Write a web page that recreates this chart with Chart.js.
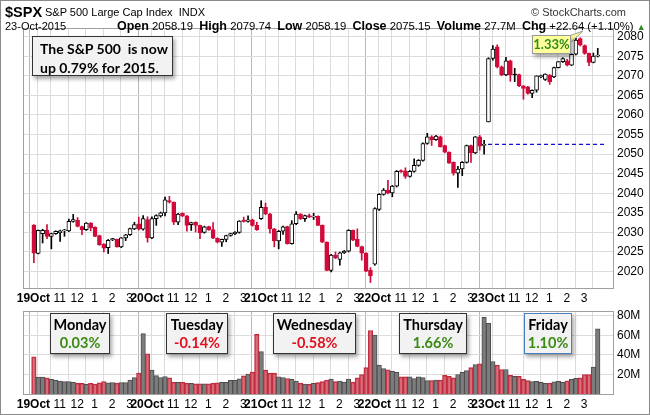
<!DOCTYPE html>
<html>
<head>
<meta charset="utf-8">
<script src="https://cdn.jsdelivr.net/npm/chart.js@4.4.0/dist/chart.umd.min.js"></script>
<style>
  body { margin: 0; background: #fff; font-family: Arial, "Liberation Sans", sans-serif; }
  #frame { position: absolute; left: 0; top: 0; width: 650px; height: 415px; box-sizing: border-box; border: 1px solid #8a8a8a; }
  canvas { position: absolute; left: 0; }
  .t { position: absolute; white-space: nowrap; color: #000; }
  .t b { font-size: 12.5px; }
  .box { position: absolute; background: #f2f2f2; border: 1px solid #333; box-shadow: 2px 3px 4px rgba(0,0,0,0.35);
         font-family: Lato, "Open Sans", sans-serif; font-weight: bold; text-align: center; }
  .box div { line-height: 18px; font-size: 14.5px; }
</style>
</head>
<body>
<div id="frame"></div>
<canvas id="price" width="650" height="305" style="top:0"></canvas>
<canvas id="volume" width="650" height="115" style="top:300px"></canvas>

<div class="t" style="left:5px;top:4px;font-size:14.5px;font-weight:bold">$SPX</div>
<div class="t" style="left:45px;top:6px;font-size:11px">S&amp;P 500 Large Cap Index&nbsp; INDX</div>
<div class="t" style="left:531px;top:6px;font-size:11px;color:#333">&copy; StockCharts.com</div>
<div class="t" style="left:5px;top:20px;font-size:11px">23-Oct-2015</div>
<div class="t" style="left:117px;top:19px;font-size:11.3px"><b>Open</b> 2058.19 &nbsp;<b>High</b> 2079.74 &nbsp;<b>Low</b> 2058.19 &nbsp;<b>Close</b> 2075.15 &nbsp;<b>Volume</b> 27.7M &nbsp;<b>Chg</b> +22.64 (+1.10%) <span style="color:#2e8b22;font-size:9px">&#9650;</span></div>

<div class="box" style="left:32px;top:36px;width:139px;height:38px;text-align:left">
  <div style="padding:2px 0 0 7px;line-height:19px;font-size:14px">The S&amp;P 500&nbsp; is now<br>up 0.79% for 2015.</div>
</div>

<svg style="position:absolute;left:566px;top:29px" width="22" height="20">
  <polygon points="3,7 17,2 3,15" fill="#ffff99" stroke="#999" stroke-width="1"/>
</svg>
<div class="box" style="left:532px;top:35px;width:37px;height:17px;background:#ffff99;border-color:#999;color:#2e8b22">
  <div style="font-size:13px;line-height:17px">1.33%</div>
</div>

<div class="box" style="left:50px;top:313px;width:58px;height:39px"><div style="padding-top:2px">Monday</div><div style="color:#3a8a14">0.03%</div></div>
<div class="box" style="left:166px;top:313px;width:60px;height:39px"><div style="padding-top:2px">Tuesday</div><div style="color:#e0101e">-0.14%</div></div>
<div class="box" style="left:273px;top:313px;width:81px;height:39px"><div style="padding-top:2px">Wednesday</div><div style="color:#e0101e">-0.58%</div></div>
<div class="box" style="left:399px;top:313px;width:66px;height:39px"><div style="padding-top:2px">Thursday</div><div style="color:#3a8a14">1.66%</div></div>
<div class="box" style="left:524px;top:313px;width:46px;height:39px;border-color:#4a7fc0"><div style="padding-top:2px">Friday</div><div style="color:#3a8a14">1.10%</div></div>

<script>
// 15-minute bars, 26 per session, 19-23 Oct 2015
const days = ['19Oct', '20Oct', '21Oct', '22Oct', '23Oct'];
const hourOffsets = [0, 2, 6, 10, 14, 18, 22];
const hourLabels = ['', '', '11', '12', '1', '2', '3'];
const barsPerDay = 26;

const opens = [
  2031.9, 2024.6, 2029.7, 2030.5, 2029.0, 2029.7, 2029.9, 2030.4, 2030.4, 2032.8, 2033.1, 2031.5, 2030.7, 2032.4, 2031.3, 2029.2, 2027.0, 2026.1, 2028.1, 2028.2, 2026.3, 2028.6, 2029.4, 2030.9, 2032.2, 2030.8,
  2033.3, 2028.6, 2033.5, 2034.2, 2035.0, 2038.1, 2037.7, 2032.6, 2034.9, 2034.2, 2032.0, 2032.6, 2031.8, 2030.0, 2031.5, 2030.7, 2028.5, 2027.5, 2028.2, 2029.2, 2029.7, 2030.0, 2033.1, 2032.8, 2033.2, 2031.8,
  2033.5, 2036.4, 2034.7, 2030.9, 2027.8, 2030.3, 2031.5, 2027.1, 2032.2, 2034.7, 2033.5, 2034.3, 2033.9, 2034.1, 2031.8, 2027.5, 2020.3, 2024.2, 2023.1, 2024.8, 2025.2, 2030.5, 2028.2, 2026.4, 2024.7, 2020.3,
  2021.9, 2035.9, 2039.7, 2040.8, 2040.1, 2041.8, 2045.6, 2045.7, 2044.3, 2045.6, 2047.1, 2048.4, 2052.7, 2054.4, 2053.7, 2054.4, 2052.2, 2050.5, 2047.9, 2045.1, 2046.2, 2047.9, 2052.2, 2050.3, 2054.4, 2052.2,
  2058.2, 2074.4, 2077.4, 2072.3, 2070.2, 2073.8, 2070.4, 2070.3, 2067.4, 2067.2, 2065.5, 2066.3, 2069.8, 2069.1, 2070.2, 2069.7, 2072.1, 2073.6, 2073.8, 2072.7, 2075.5, 2079.5, 2077.7, 2075.7, 2073.4, 2075.0
];
const highs = [
  2032.0, 2030.6, 2030.8, 2032.0, 2029.8, 2030.4, 2030.6, 2030.8, 2033.4, 2034.6, 2033.8, 2031.6, 2032.5, 2032.5, 2031.4, 2029.3, 2027.1, 2028.2, 2028.5, 2028.3, 2028.7, 2029.5, 2031.1, 2032.6, 2033.9, 2034.3,
  2034.0, 2034.0, 2034.5, 2035.2, 2039.0, 2039.2, 2037.8, 2034.9, 2035.0, 2034.3, 2032.6, 2032.7, 2031.9, 2031.6, 2031.6, 2032.5, 2028.6, 2028.3, 2029.3, 2029.8, 2030.2, 2033.0, 2033.9, 2034.2, 2033.4, 2032.6,
  2038.1, 2037.5, 2034.9, 2031.0, 2030.5, 2031.6, 2031.6, 2033.0, 2035.3, 2034.8, 2034.4, 2034.7, 2034.9, 2034.2, 2031.9, 2027.6, 2024.4, 2025.0, 2025.0, 2025.4, 2030.7, 2030.6, 2030.9, 2026.5, 2024.8, 2021.0,
  2036.3, 2039.9, 2041.2, 2043.3, 2042.0, 2045.8, 2046.0, 2046.5, 2045.8, 2048.8, 2048.6, 2052.9, 2055.3, 2054.7, 2054.8, 2054.6, 2052.3, 2050.6, 2048.0, 2046.9, 2048.1, 2052.3, 2052.3, 2054.5, 2054.8, 2053.5,
  2074.6, 2077.7, 2077.9, 2072.5, 2074.7, 2074.0, 2071.9, 2070.4, 2067.5, 2067.3, 2066.4, 2070.0, 2070.2, 2070.5, 2070.3, 2072.2, 2073.6, 2074.6, 2074.2, 2075.6, 2079.7, 2079.7, 2077.9, 2075.8, 2075.8, 2077.0
];
const lows = [
  2022.3, 2024.5, 2027.3, 2028.4, 2025.8, 2029.5, 2027.7, 2029.0, 2030.2, 2032.6, 2031.4, 2029.4, 2030.5, 2030.4, 2028.9, 2026.7, 2025.0, 2024.6, 2027.9, 2026.2, 2026.1, 2027.9, 2029.2, 2030.7, 2030.6, 2030.6,
  2027.5, 2028.4, 2031.8, 2033.9, 2034.2, 2037.5, 2032.0, 2032.0, 2034.0, 2030.3, 2030.5, 2030.1, 2028.4, 2029.8, 2030.5, 2028.4, 2027.3, 2026.4, 2027.6, 2029.0, 2029.4, 2029.8, 2032.6, 2032.6, 2031.6, 2030.5,
  2033.3, 2034.5, 2029.8, 2026.3, 2025.8, 2029.5, 2027.0, 2027.0, 2032.0, 2033.3, 2032.8, 2033.8, 2033.3, 2031.7, 2027.4, 2020.2, 2019.9, 2023.3, 2021.6, 2024.6, 2025.0, 2027.9, 2026.3, 2022.9, 2020.0, 2017.2,
  2021.6, 2035.6, 2039.5, 2039.8, 2039.1, 2041.6, 2045.3, 2043.8, 2044.1, 2045.4, 2046.9, 2048.2, 2052.5, 2052.2, 2053.5, 2051.8, 2050.3, 2047.6, 2044.6, 2041.5, 2044.5, 2047.7, 2047.9, 2050.1, 2051.0, 2050.0,
  2058.2, 2074.0, 2072.0, 2070.0, 2070.0, 2068.6, 2068.5, 2067.2, 2064.0, 2065.3, 2064.4, 2065.8, 2069.5, 2068.8, 2067.8, 2069.5, 2072.0, 2073.4, 2072.5, 2072.6, 2075.3, 2077.6, 2075.5, 2072.6, 2073.3, 2074.8
];
const closes = [
  2024.7, 2030.5, 2030.5, 2029.0, 2029.7, 2030.3, 2030.4, 2030.6, 2032.8, 2033.3, 2031.5, 2030.7, 2032.4, 2031.2, 2029.0, 2026.8, 2026.0, 2028.0, 2028.4, 2026.3, 2028.6, 2029.4, 2031.0, 2032.0, 2030.8, 2033.5,
  2028.6, 2033.5, 2034.3, 2035.0, 2038.3, 2037.7, 2032.6, 2034.7, 2034.2, 2031.8, 2032.5, 2031.8, 2029.9, 2031.4, 2030.7, 2028.5, 2027.5, 2028.2, 2029.2, 2029.7, 2030.0, 2032.9, 2032.8, 2033.2, 2031.8, 2030.7,
  2036.4, 2034.7, 2030.9, 2027.8, 2030.3, 2031.4, 2027.1, 2032.2, 2034.7, 2033.5, 2034.3, 2033.9, 2034.1, 2031.8, 2027.5, 2020.3, 2024.2, 2023.5, 2024.8, 2025.2, 2030.5, 2028.0, 2026.4, 2024.7, 2020.1, 2018.9,
  2036.1, 2039.7, 2040.8, 2040.1, 2041.8, 2045.6, 2045.5, 2044.3, 2045.6, 2047.1, 2048.4, 2052.7, 2054.4, 2053.7, 2054.6, 2051.8, 2050.5, 2047.7, 2045.1, 2046.2, 2047.9, 2052.2, 2050.3, 2054.4, 2052.0, 2052.5,
  2074.4, 2076.8, 2072.3, 2070.2, 2073.8, 2070.2, 2070.2, 2067.4, 2066.8, 2065.5, 2066.3, 2070.0, 2070.0, 2070.4, 2068.5, 2072.1, 2073.6, 2074.4, 2072.7, 2075.5, 2079.1, 2077.9, 2075.7, 2073.4, 2075.0, 2075.2
];
// volume in millions
const volumes = [
  38.0, 17.4, 17.4, 16.5, 14.9, 14.0, 13.3, 12.7, 12.7, 12.0, 10.8, 10.8, 9.8, 10.8, 10.2, 11.4, 12.7, 11.4, 11.7, 11.1, 11.7, 11.7, 14.3, 16.8, 21.3, 61.9,
  41.2, 24.4, 18.9, 16.8, 17.9, 16.5, 12.0, 12.0, 12.0, 11.0, 11.0, 10.5, 10.5, 10.5, 10.5, 11.0, 11.5, 12.0, 12.0, 14.0, 14.0, 15.5, 18.5, 20.5, 22.5, 61.0,
  43.4, 24.4, 21.3, 21.3, 17.5, 16.8, 15.9, 14.9, 13.3, 11.1, 10.2, 9.8, 10.8, 11.7, 12.7, 14.3, 15.2, 12.7, 13.3, 12.1, 15.2, 12.1, 16.5, 20.0, 27.0, 65.0,
  60.3, 29.5, 26.0, 24.8, 23.2, 22.2, 17.5, 17.5, 17.5, 15.9, 17.5, 16.8, 13.7, 13.7, 14.3, 14.3, 19.0, 18.1, 16.5, 20.0, 22.2, 24.0, 27.0, 30.2, 30.8, 78.4,
  72.4, 33.3, 29.5, 25.1, 25.1, 19.0, 18.1, 18.1, 14.9, 13.7, 12.7, 13.0, 12.0, 11.0, 11.0, 12.5, 13.0, 12.0, 13.5, 15.0, 16.0, 16.5, 20.0, 20.0, 27.5, 66.7
];
const priceTicks = [2020, 2025, 2030, 2035, 2040, 2045, 2050, 2055, 2060, 2065, 2070, 2075, 2080];
const volumeTicks = [20, 40, 60, 80];

const RED = '#d20a3a';
const idx = closes.map((c, i) => i);
const down = idx.map(i => i === 0 ? closes[0] < opens[0] : closes[i] < closes[i - 1]);
const lineCol = down.map(d => d ? RED : '#000');
const bodyFill = idx.map(i => closes[i] < opens[i] ? lineCol[i] : '#fff');

// hour grid positions (just before the bar that starts the hour)
const gridTicks = [];
days.forEach((d, di) => hourOffsets.forEach((h, hi) => {
  gridTicks.push({ value: di * barsPerDay + h - 0.1, label: hi === 0 ? d : hourLabels[hi], day: hi === 0 });
}));
const xMin = -0.56, xMax = closes.length + 0.56;

const frame = {
  id: 'frame',
  afterDraw(chart) {
    const a = chart.chartArea, c = chart.ctx;
    c.save();
    c.strokeStyle = '#a0a0a0';
    c.lineWidth = 1;
    c.strokeRect(Math.round(a.left) + 0.5, Math.round(a.top) + 0.5, Math.round(a.right - a.left), Math.round(a.bottom - a.top));
    c.restore();
  }
};

function xAxis(height) {
  return {
    type: 'linear', min: xMin, max: xMax,
    afterBuildTicks: ax => { ax.ticks = gridTicks.map(t => ({ value: t.value })); },
    afterFit: ax => { ax.height = height; },
    grid: { color: c => gridTicks[c.index] && gridTicks[c.index].day ? '#b8b8b8' : '#dcdcdc', drawTicks: false },
    border: { display: false },
    ticks: {
      autoSkip: false, maxRotation: 0, padding: 3, color: '#000',
      callback: (v, i) => gridTicks[i].label,
      font: c => ({ family: 'Arial, "Liberation Sans"', size: 12, weight: gridTicks[c.index] && gridTicks[c.index].day ? 'bold' : 'normal' })
    }
  };
}

new Chart(document.getElementById('price'), {
  type: 'bar',
  data: {
    datasets: [
      {
        data: idx.map(i => ({ x: i, y: [opens[i], closes[i]] })),
        backgroundColor: bodyFill, borderColor: lineCol, borderWidth: 1, borderSkipped: false,
        barThickness: 4, minBarLength: 1, grouped: false, order: 0
      },
      {
        data: idx.map(i => ({ x: i, y: [lows[i], highs[i]] })),
        backgroundColor: lineCol, borderWidth: 0, barThickness: 1, grouped: false, order: 1
      },
      {
        type: 'line',
        data: [{ x: 4 * barsPerDay - 0.1, y: closes[4 * barsPerDay - 1] }, { x: xMax, y: closes[4 * barsPerDay - 1] }],
        borderColor: '#1010d0', borderWidth: 1.3, borderDash: [4, 3], pointRadius: 0, order: 2
      }
    ]
  },
  options: {
    responsive: false, animation: false,
    plugins: { legend: { display: false }, tooltip: { enabled: false } },
    layout: { padding: { left: 23, top: 28, right: 0, bottom: 0 } },
    scales: {
      x: xAxis(17),
      y: {
        position: 'right', min: 2015.8, max: 2082.2,
        afterBuildTicks: ax => { ax.ticks = priceTicks.map(v => ({ value: v })); },
        afterFit: ax => { ax.width = 37; },
        grid: { color: '#dcdcdc', drawTicks: false },
        border: { display: false },
        ticks: { padding: 4, color: '#000', callback: v => String(v), font: { family: 'Arial, "Liberation Sans"', size: 12 } }
      }
    }
  },
  plugins: [frame]
});

new Chart(document.getElementById('volume'), {
  type: 'bar',
  data: {
    datasets: [{
      data: idx.map(i => ({ x: i, y: volumes[i] })),
      backgroundColor: down.map(d => d ? 'rgba(204,72,88,0.78)' : '#7c7c7c'),
      borderColor: down.map(d => d ? '#c02a3c' : '#4c4c4c'),
      borderWidth: 1, borderSkipped: 'bottom', barThickness: 4.5, grouped: false
    }]
  },
  options: {
    responsive: false, animation: false,
    plugins: { legend: { display: false }, tooltip: { enabled: false } },
    layout: { padding: { left: 23, top: 4, right: 0, bottom: 0 } },
    scales: {
      x: xAxis(21),
      y: {
        position: 'right', min: 0, max: 84.8,
        afterBuildTicks: ax => { ax.ticks = volumeTicks.map(v => ({ value: v })); },
        afterFit: ax => { ax.width = 37; },
        grid: { color: '#dcdcdc', drawTicks: false },
        border: { display: false },
        ticks: { padding: 4, color: '#000', callback: v => v + 'M', font: { family: 'Arial, "Liberation Sans"', size: 12 } }
      }
    }
  },
  plugins: [frame]
});
</script>
</body>
</html>
